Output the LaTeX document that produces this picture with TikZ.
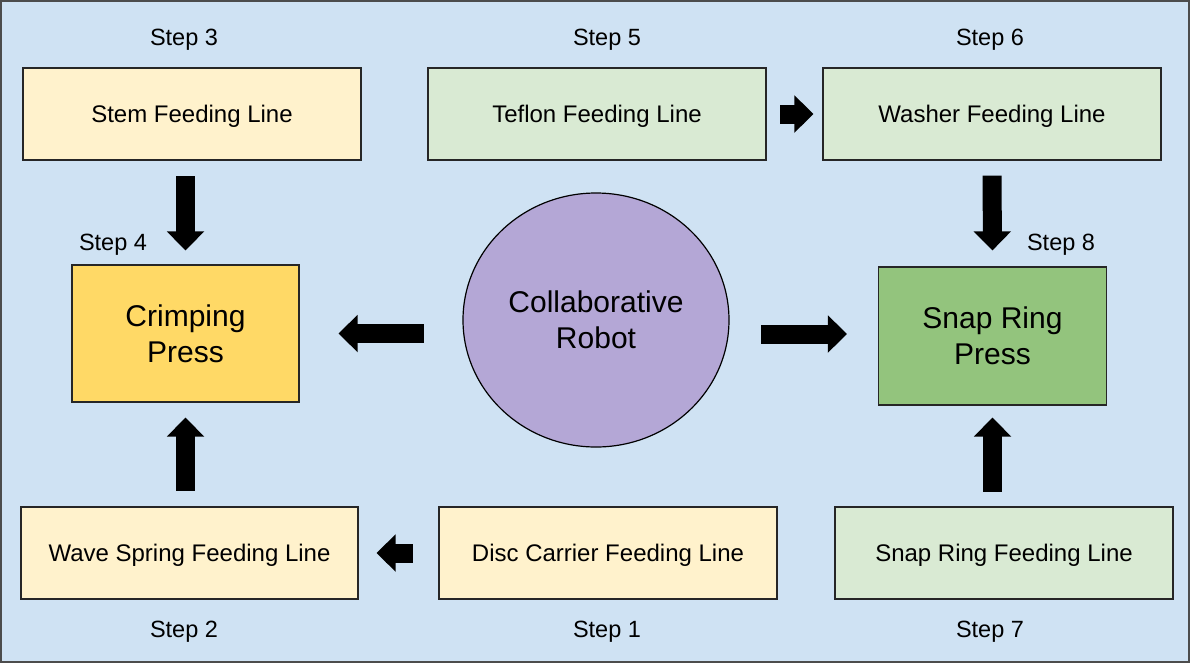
\documentclass[tikz,border=0pt]{standalone}
\usepackage{fontspec}
\setmainfont{Liberation Sans}
\usetikzlibrary{arrows.meta,shapes.geometric}
\definecolor{bgblue}{HTML}{CFE2F3}
\definecolor{lightyellow}{HTML}{FFF2CC}
\definecolor{lightgreen}{HTML}{D9EAD3}
\definecolor{pressyellow}{HTML}{FFD966}
\definecolor{pressgreen}{HTML}{93C47D}
\definecolor{robotpurple}{HTML}{B4A7D6}
\begin{document}
\begin{tikzpicture}[x=1pt,y=-1pt,
  feedbox/.style={draw=black!85, line width=1.2pt, minimum width=338pt, minimum height=92pt, inner sep=0pt, text depth=0pt, font=\fontsize{24}{28}\selectfont},
  pressbox/.style={draw=black!85, line width=1.2pt, minimum width=228pt, minimum height=138pt, inner sep=0pt, align=center, font=\fontsize{30}{36}\selectfont},
  steplabel/.style={inner sep=0pt, text depth=0pt, font=\fontsize{23.5}{28}\selectfont},
  blockarrow/.style={line width=19pt, line cap=rect, -{Triangle[width=37.5pt,length=19pt,line width=0pt]}}]
\useasboundingbox (0,0) rectangle (1191,665);
\draw[fill=bgblue, draw=black!70, line width=2pt] (1,1) rectangle (1189,662);

\node[feedbox, fill=lightyellow] (stem) at (192,114) {Stem Feeding Line};
\node[feedbox, fill=lightgreen] (teflon) at (597,114) {Teflon Feeding Line};
\node[feedbox, fill=lightgreen] (washer) at (992,114) {Washer Feeding Line};
\node[pressbox, fill=pressyellow, minimum width=227pt, minimum height=137pt] (crimp) at (185.5,333.5) {Crimping\\Press};
\node[draw=black, line width=1.2pt, ellipse, fill=robotpurple, minimum width=266pt, minimum height=254pt, inner sep=0pt, align=center, font=\fontsize{30}{36}\selectfont] (robot) at (596,320) {Collaborative\\Robot};
\node[pressbox, fill=pressgreen] (snappress) at (992.5,336) {Snap Ring\\Press};
\node[feedbox, fill=lightyellow, minimum width=337pt] (wave) at (189.5,553) {Wave Spring Feeding Line};
\node[feedbox, fill=lightyellow] (disc) at (608,553) {Disc Carrier Feeding Line};
\node[feedbox, fill=lightgreen] (snapfeed) at (1004,553) {Snap Ring Feeding Line};

\node[steplabel] (s3) at (184,37) {Step 3};
\node[steplabel] (s5) at (607,37) {Step 5};
\node[steplabel] (s6) at (990,37) {Step 6};
\node[steplabel] (s4) at (113,242) {Step 4};
\node[steplabel] (s8) at (1061,242) {Step 8};
\node[steplabel] (s2) at (184,629) {Step 2};
\node[steplabel] (s1) at (607,629) {Step 1};
\node[steplabel] (s7) at (990,629) {Step 7};

% rect caps run 9.5pt past each end, so the start is pulled back by that much
\draw[blockarrow, shorten <=24.5pt, shorten >=14pt] (stem.south -| crimp.north) -- (crimp.north);
\draw[blockarrow, shorten <=24.5pt, shorten >=15pt] (wave.north -| crimp.south) -- (crimp.south);
\draw[blockarrow, shorten <=47.5pt, shorten >=39pt] (robot.west |- crimp.east) -- (crimp.east);
\draw[blockarrow, shorten <=40.5pt, shorten >=31pt] (robot.east |- 0,334) -- (snappress.west |- 0,334);
\draw[blockarrow, shorten <=22.5pt, shorten >=9pt] (teflon.east) -- (washer.west);
\draw[blockarrow, shorten <=24.5pt, shorten >=16pt] (washer.south) -- (snappress.north);
\draw[blockarrow, shorten <=23.5pt, shorten >=12pt] (snapfeed.north -| snappress.south) -- (snappress.south);
\draw[blockarrow, shorten <=34.5pt, shorten >=18pt] (disc.west) -- (wave.east);
\end{tikzpicture}
\end{document}
